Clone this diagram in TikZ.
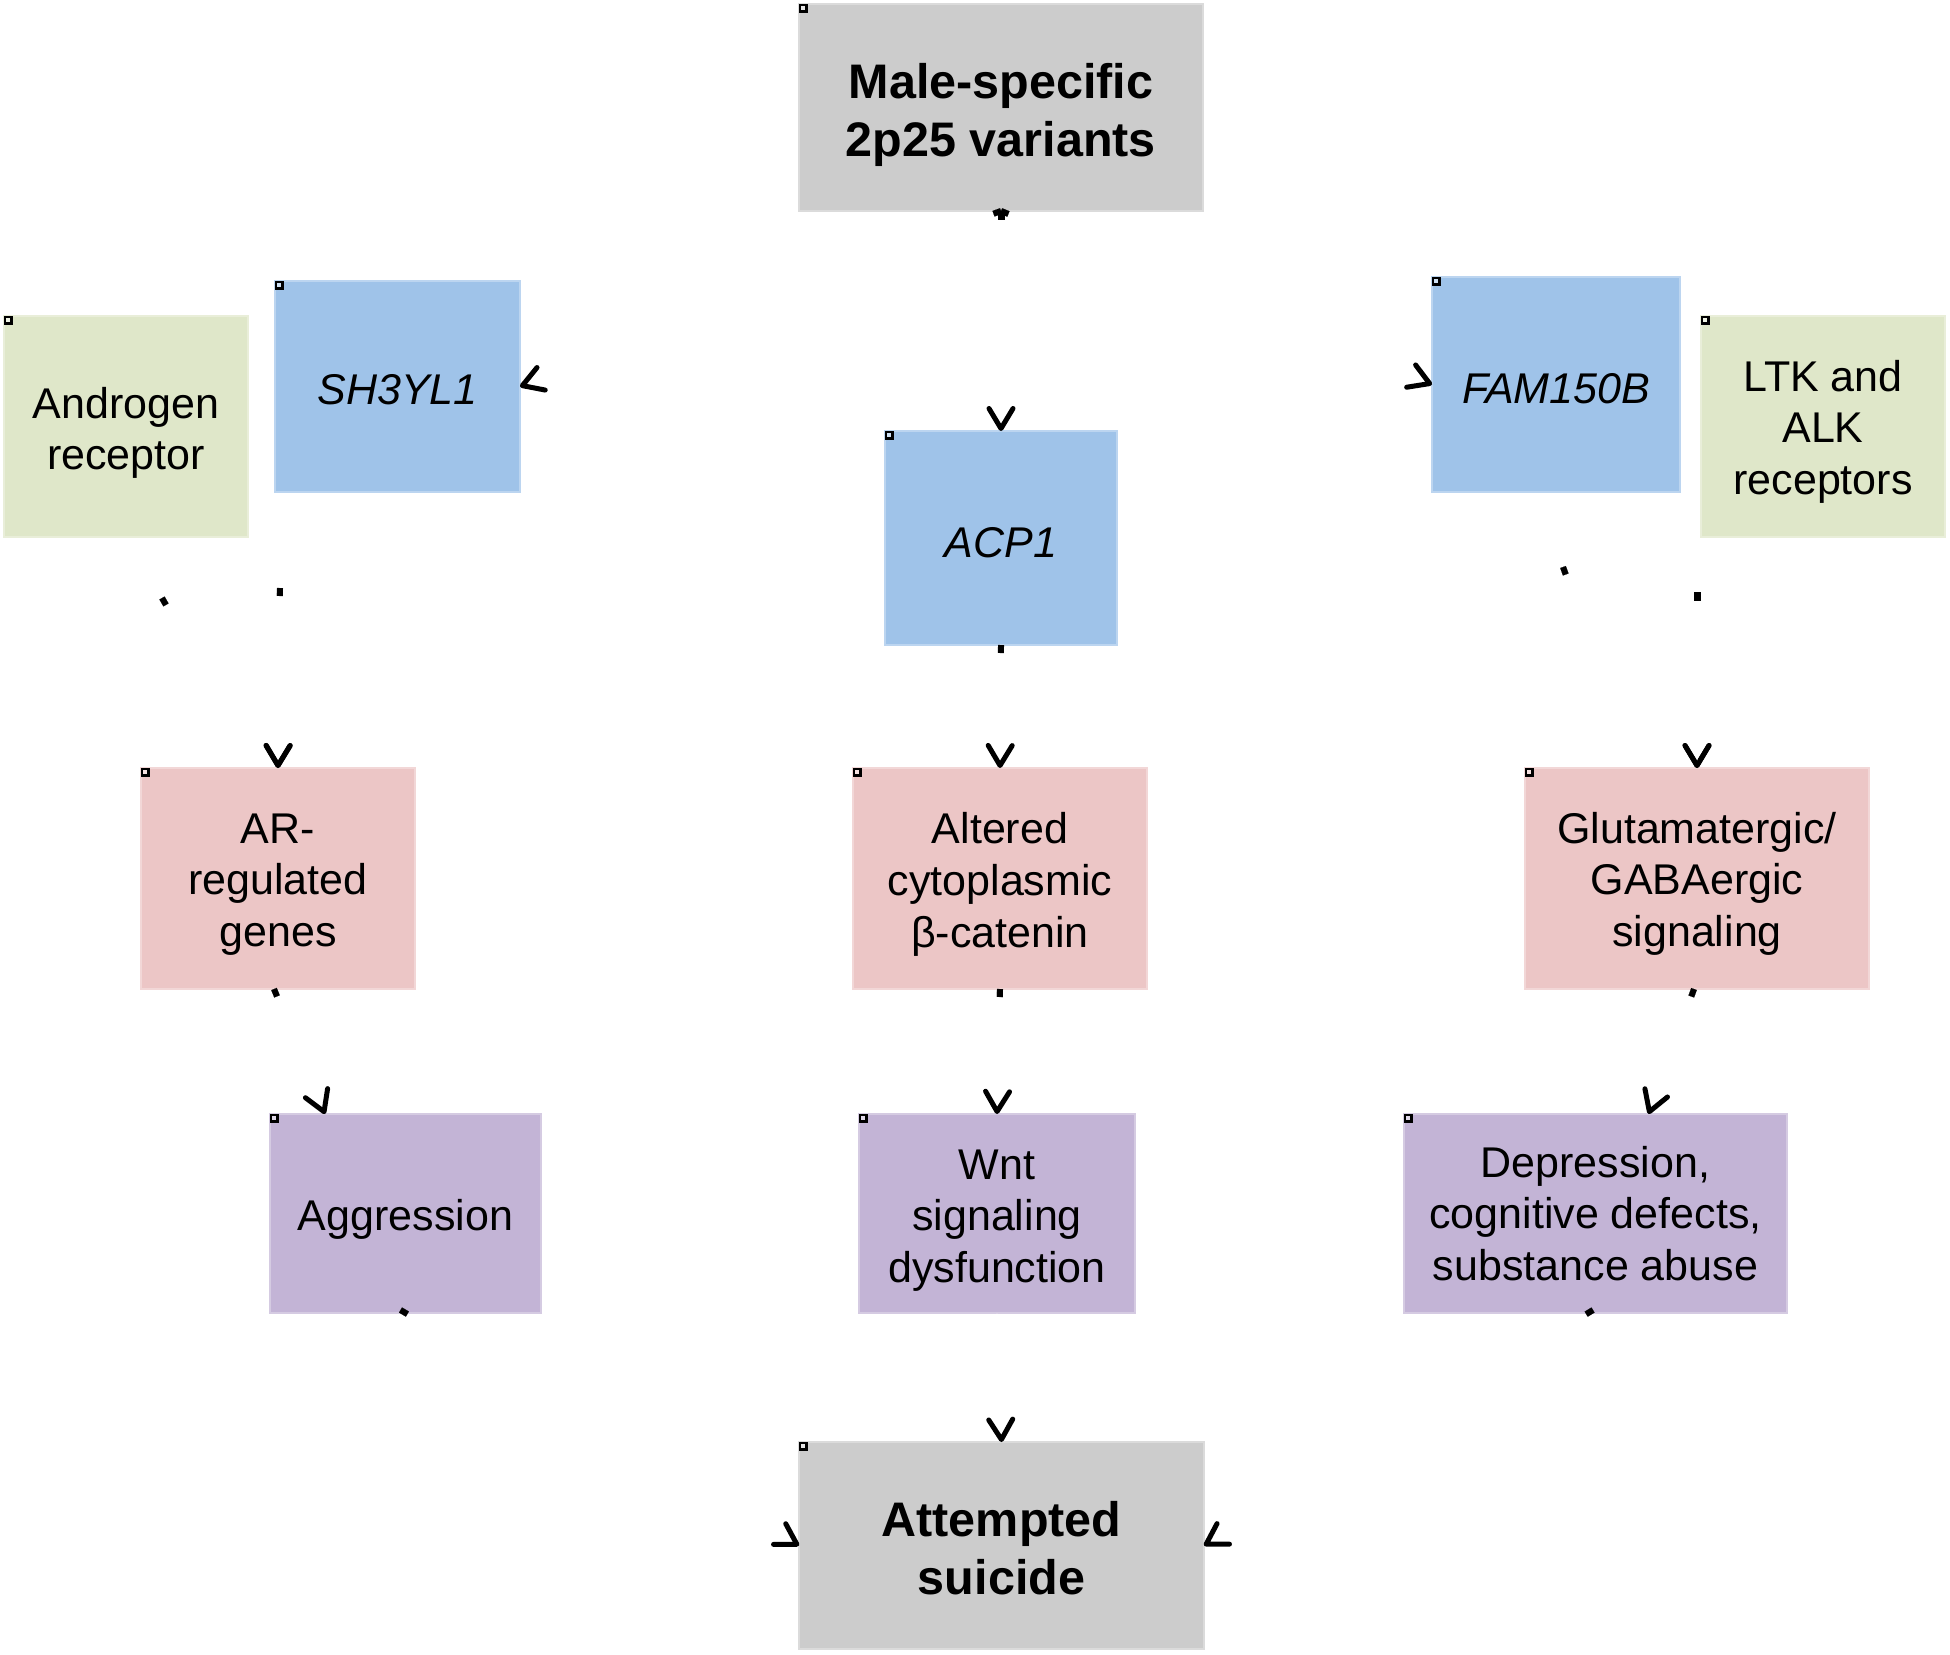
\documentclass[tikz,border=0pt]{standalone}
\usepackage{fontspec}
\setmainfont{Liberation Sans}
\usetikzlibrary{arrows.meta}
\definecolor{cgray}{HTML}{CCCCCC}
\definecolor{cblue}{HTML}{9FC3E9}
\definecolor{cgreen}{HTML}{DFE7C9}
\definecolor{cpink}{HTML}{ECC6C6}
\definecolor{cpurple}{HTML}{C3B4D6}
% strut that pushes the centred text block down by #1/2 pt
\newcommand\tsh[1]{\rule{0pt}{\dimexpr 0.74em + #1pt\relax}}
\begin{document}
\begin{tikzpicture}[x=1pt,y=-1pt,
  box/.style={rectangle, inner sep=0pt, outer sep=0pt, align=center,
    font=\fontsize{43}{51.6}\selectfont},
  titlebox/.style={box, fill=cgray, draw=cgray!70!white, line width=1.5pt,
    font=\fontsize{48.5}{58}\selectfont\bfseries},
  genebox/.style={box, fill=cblue, draw=cblue!70!white, line width=1.5pt, font=\fontsize{43}{51.6}\selectfont\itshape},
  recbox/.style={box, fill=cgreen, draw=cgreen!70!white, line width=1.5pt},
  pathbox/.style={box, fill=cpink, draw=cpink!70!white, line width=1.5pt},
  phenbox/.style={box, fill=cpurple, draw=cpurple!70!white, line width=1.5pt},
  corner/.style={draw=black, line width=2.4pt, fill=white, fill opacity=0.5},
  conn/.style={draw=white, line width=0.1pt,
    {Rectangle[black,length=8pt,width=6pt]}-{Straight Barb[black,length=20pt,width=24pt,line width=5pt,round]}},
  connb/.style={draw=white, line width=0.1pt,
    -{Straight Barb[black,length=20pt,width=24pt,line width=5pt,round]}}
]
\fill[white] (0,0) rectangle (1950,1654);

% nodes
\node[titlebox, minimum width=404pt, minimum height=207pt] (top) at (1001,107.5) {\tsh{14}Male-specific\\2p25 variants};
\node[genebox, minimum width=245pt, minimum height=211pt] (sh3) at (397.5,386.5) {\tsh{5}SH3YL1};
\node[genebox, minimum width=248pt, minimum height=215pt] (fam) at (1556,384.5) {\tsh{7}FAM150B};
\node[genebox, minimum width=232pt, minimum height=214pt] (acp) at (1001,538) {\tsh{7}ACP1};
\node[recbox, minimum width=244pt, minimum height=221pt] (andr) at (126,426.5) {\tsh{12}Androgen\\receptor};
\node[recbox, minimum width=244pt, minimum height=221pt] (ltk) at (1823,426.5) {\tsh{10}LTK and\\ALK\\receptors};
\node[pathbox, minimum width=274pt, minimum height=221pt] (ar) at (278,878.5) {\tsh{10}AR-\\regulated\\genes};
\node[pathbox, minimum width=294pt, minimum height=221pt] (alt) at (1000,878.5) {\tsh{11}Altered\\cytoplasmic\\β-catenin};
\node[pathbox, minimum width=344pt, minimum height=221pt] (glu) at (1697,878.5) {\tsh{10}Glutamatergic/\\GABAergic\\signaling};
\node[phenbox, minimum width=271pt, minimum height=199pt] (agg) at (405.5,1213.5) {\tsh{12}Aggression};
\node[phenbox, minimum width=276pt, minimum height=199pt] (wnt) at (997,1213.5) {\tsh{12}Wnt\\signaling\\dysfunction};
\node[phenbox, minimum width=383pt, minimum height=199pt] (dep) at (1595.5,1213.5) {Depression,\\cognitive defects,\\substance abuse};
\node[titlebox, minimum width=405pt, minimum height=207pt] (att) at (1001.5,1545.5) {\tsh{4}Attempted\\suicide};

% small corner markers
\foreach \n in {top,sh3,fam,acp,andr,ltk,ar,alt,glu,agg,wnt,dep,att}
  \draw[corner] ([shift={(1.2,1.2)}]\n.north west) rectangle ++(6.4,6.4);

% connectors
\draw[conn] (top.south) -- (acp.north);
\draw[conn] (top.south) -- (sh3.east);
\draw[conn] (top.south) -- (fam.west);
\draw[conn] ([shift={(36,61)}]andr.south) to[out=-60,in=90] (ar.north);
\draw[conn] ([shift={(5,96)}]sh3.south west) -- (ar.north);
\draw[conn] ([shift={(7,75)}]fam.south) to[out=-70,in=90] (glu.north);
\draw[conn] ([shift={(-4,55)}]ltk.south west) -- (glu.north);
\draw[conn] (acp.south) -- (alt.north);
\draw[conn] ([shift={(-4,0)}]ar.south) -- ([shift={(55,0)}]agg.north west);
\draw[conn] (alt.south) -- (wnt.north);
\draw[conn] ([shift={(-3,0)}]glu.south) -- ([shift={(53,0)}]dep.north);
\draw[conn] ([shift={(-5,-3)}]agg.south) -- (att.west);
\draw[connb] (wnt.south) -- (att.north);
\draw[conn] ([shift={(-2.5,-3)}]dep.south) -- (att.east);
\end{tikzpicture}
\end{document}
